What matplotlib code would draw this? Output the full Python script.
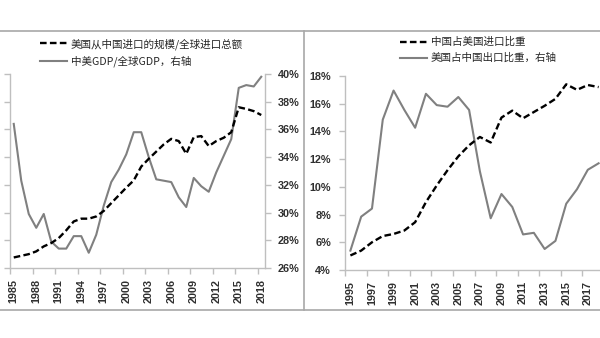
import matplotlib
matplotlib.use("Agg")
import matplotlib.pyplot as plt
from matplotlib.lines import Line2D
from matplotlib.ticker import FixedLocator, NullFormatter, PercentFormatter

plt.rcParams['font.family'] = ['Noto Sans CJK SC', 'DejaVu Sans']

# ---- left panel data ----
years_a = list(range(1985, 2019))
us_imports_from_cn_share = [0.19, 0.22, 0.25, 0.30, 0.39, 0.45, 0.54, 0.68, 0.84, 0.89,
                            0.89, 0.93, 1.03, 1.17, 1.31, 1.45, 1.58, 1.83, 1.97, 2.10,
                            2.23, 2.33, 2.29, 2.06, 2.36, 2.38, 2.20, 2.29, 2.35, 2.45,
                            2.90, 2.87, 2.83, 2.76]
cn_us_gdp_share = [36.4, 32.3, 29.9, 28.9, 29.9, 27.9, 27.4, 27.4, 28.3, 28.3,
                   27.1, 28.4, 30.5, 32.2, 33.1, 34.2, 35.8, 35.8, 34.0, 32.4,
                   32.3, 32.2, 31.1, 30.4, 32.5, 31.9, 31.5, 32.9, 34.1, 35.3,
                   39.0, 39.2, 39.1, 39.8]
label_a1 = "美国从中国进口的规模/全球进口总额"
label_a2 = "中美GDP/全球GDP，右轴"

# ---- right panel data ----
years_b = list(range(1995, 2019))
cn_share_of_us_imports = [5.05, 5.40, 6.00, 6.45, 6.60, 6.85, 7.45, 8.90, 10.1, 11.2,
                          12.2, 13.0, 13.6, 13.2, 15.0, 15.5, 14.95, 15.4, 15.85, 16.35,
                          17.4, 17.0, 17.35, 17.2]
us_share_of_cn_exports = [16.6, 17.65, 17.9, 20.65, 21.55, 20.95, 20.4, 21.45, 21.1, 21.05,
                          21.35, 20.95, 19.05, 17.6, 18.35, 17.95, 17.1, 17.15, 16.65, 16.9,
                          18.05, 18.5, 19.1, 19.3]
label_b1 = "中国占美国进口比重"
label_b2 = "美国占中国出口比重，右轴"

W, H = 600, 338
fig = plt.figure(figsize=(W / 100, H / 100), dpi=100)

DASH_KW = dict(color='black', lw=1.7, ls=(0, (2.8, 1.4)))
GRAY_KW = dict(color='#808080', lw=1.5)
SPINE = '#bfbfbf'
TICK_FONT = dict(family='Liberation Sans', weight='bold', size=7.8)
TICK_COLOR = '#303030'


def px_rect(x0, y_top, x1, y_bottom):
    return [x0 / W, 1 - y_bottom / H, (x1 - x0) / W, (y_bottom - y_top) / H]


def style_axes(ax, visible_spines):
    for name, sp in ax.spines.items():
        sp.set_visible(name in visible_spines)
        sp.set_color(SPINE)
        sp.set_linewidth(1.0)
    ax.tick_params(which='both', colors=SPINE, labelcolor=TICK_COLOR, length=4, width=1.0)
    ax.patch.set_visible(False)


def category_xaxis(ax, n, step, years):
    ax.set_xlim(-0.5, n - 0.5)
    label_pos = list(range(0, n, step))
    ax.xaxis.set_major_locator(FixedLocator(label_pos))
    ax.set_xticklabels([str(years[i]) for i in label_pos], rotation=90, **TICK_FONT)
    ax.xaxis.set_minor_locator(FixedLocator([p - 0.5 for p in label_pos]))
    ax.tick_params(axis='x', which='major', length=0, pad=8)
    ax.tick_params(axis='x', which='minor', length=4)


# ---------------- left panel ----------------
axA = fig.add_axes(px_rect(10, 74, 265, 268))
xa = list(range(len(years_a)))
style_axes(axA, ('left', 'bottom'))
lineA1, = axA.plot(xa, us_imports_from_cn_share, **DASH_KW, zorder=3)
axA.set_ylim(0, 3.5)
axA.set_yticks([i * 0.5 for i in range(8)])
axA.yaxis.set_major_formatter(NullFormatter())
category_xaxis(axA, len(years_a), 3, years_a)

axA2 = axA.twinx()
style_axes(axA2, ('right',))
lineA2, = axA2.plot(xa, cn_us_gdp_share, **GRAY_KW, zorder=2)
axA2.set_ylim(26, 40)
axA2.set_yticks(range(26, 41, 2))
axA2.yaxis.set_major_formatter(PercentFormatter(decimals=0))
for t in axA2.get_yticklabels():
    t.set_fontproperties(matplotlib.font_manager.FontProperties(**TICK_FONT))
axA2.tick_params(axis='y', pad=5)
axA.set_zorder(axA2.get_zorder() + 1)

fig.legend([lineA1, lineA2], [label_a1, label_a2], loc='upper left',
           bbox_to_anchor=(40 / W, 1 - 38 / H), bbox_transform=fig.transFigure,
           frameon=False, fontsize=7.6, handlelength=2.6, handletextpad=0.3,
           borderpad=0, borderaxespad=0, labelspacing=0.55, labelcolor='#262626')

# ---------------- right panel ----------------
axB = fig.add_axes(px_rect(345, 76, 604, 270))
xb = list(range(len(years_b)))
style_axes(axB, ('left', 'bottom'))
lineB1, = axB.plot(xb, cn_share_of_us_imports, **DASH_KW, zorder=3)
axB.set_ylim(4, 18)
axB.set_yticks(range(4, 19, 2))
axB.yaxis.set_major_formatter(PercentFormatter(decimals=0))
for t in axB.get_yticklabels():
    t.set_fontproperties(matplotlib.font_manager.FontProperties(**TICK_FONT))
axB.tick_params(axis='y', pad=6)
category_xaxis(axB, len(years_b), 2, years_b)

axB2 = axB.twinx()
style_axes(axB2, ('right',))
lineB2, = axB2.plot(xb, us_share_of_cn_exports, **GRAY_KW, zorder=2)
axB2.set_ylim(16, 22)
axB2.set_yticks([])
axB.set_zorder(axB2.get_zorder() + 1)

fig.legend([lineB1, lineB2], [label_b1, label_b2], loc='upper left',
           bbox_to_anchor=(400 / W, 1 - 37 / H), bbox_transform=fig.transFigure,
           frameon=False, fontsize=7.6, handlelength=2.6, handletextpad=0.3,
           borderpad=0, borderaxespad=0, labelspacing=0.55, labelcolor='#262626')

# ---------------- panel frame lines ----------------
frame_kw = dict(color='#a8a8a8', lw=1.2, transform=fig.transFigure)
fig.add_artist(Line2D([0, 1], [1 - 31 / H, 1 - 31 / H], **frame_kw))
fig.add_artist(Line2D([0, 1], [1 - 310 / H, 1 - 310 / H], **frame_kw))
fig.add_artist(Line2D([304 / W, 304 / W], [1 - 31 / H, 1 - 310 / H], **frame_kw))

fig.savefig("out.png", dpi=100)
